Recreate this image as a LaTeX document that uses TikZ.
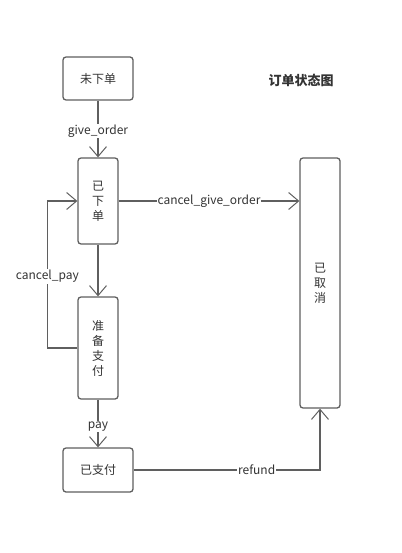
\documentclass[tikz,border=0pt]{standalone}
\usepackage{fontspec}
\setmainfont{Noto Sans CJK SC}
\usetikzlibrary{arrows.meta}
\definecolor{lin}{HTML}{5F5F5F}
\definecolor{txt}{HTML}{333333}
\tikzset{
  state/.style={draw=lin, line width=1.3pt, rounded corners=3pt, fill=white,
    text=txt, font=\fontsize{12}{15}\selectfont, align=center, inner sep=0pt},
  conn/.style={draw=lin, line width=1.3pt, -{Straight Barb[length=10pt,width=17pt,line width=1pt]}},
  lab/.style={fill=white, text=txt, font=\fontsize{12}{14}\selectfont, inner sep=1pt, yshift=-2pt}
}
\begin{document}
\begin{tikzpicture}[x=1pt,y=-1pt]
\useasboundingbox (0,0) rectangle (401,553);
\node[state, minimum width=70pt, minimum height=43pt] (n1) at (98,78.5) {未下单};
\node[state, minimum width=40pt, minimum height=86pt] (n2) at (98,201) {已\\下\\单};
\node[state, minimum width=40pt, minimum height=250pt] (n3) at (320,283) {已\\取\\消};
\node[state, minimum width=40pt, minimum height=102pt] (n4) at (98,348) {准\\备\\支\\付};
\node[state, minimum width=70pt, minimum height=44pt] (n5) at (98,470) {已支付};
\node[text=txt, font=\fontsize{13}{15}\selectfont\bfseries] (title) at (301,80) {订单状态图};
\draw[conn] (n1) -- node[lab] {give\_order} (n2);
\draw[conn] (n2) -- node[lab, yshift=2pt] {cancel\_give\_order} (n2 -| n3.west);
\draw[conn] (n2) -- (n4);
\draw[conn] (n4.west) -- ++(-30,0) |- node[lab, pos=0.25] {cancel\_pay} (n2.west);
\draw[conn] (n4) -- node[lab, yshift=-1pt] {pay} (n5);
\draw[conn] (n5.east) -| node[lab, pos=0.33, yshift=2pt] {refund} (n3.south);
\end{tikzpicture}
\end{document}
